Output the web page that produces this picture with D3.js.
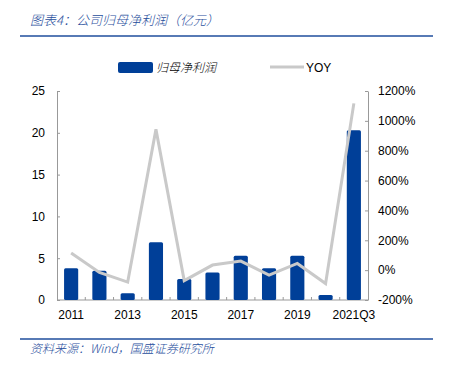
<!DOCTYPE html>
<html>
<head>
<meta charset="utf-8">
<script src="https://cdn.jsdelivr.net/npm/d3@7"></script>
<style>
  body { margin: 0; background: #fff; }
  svg text { font-family: "Liberation Sans", Arial, sans-serif; }
  .cn { font-family: "Noto Sans CJK SC", sans-serif; }
</style>
</head>
<body>
<svg id="chart" width="450" height="370"></svg>
<script>
// data
const years = ["2011", "2012", "2013", "2014", "2015", "2016", "2017", "2018", "2019", "2020", "2021Q3"];
const profit = [3.8, 3.5, 0.8, 6.9, 2.5, 3.3, 5.3, 3.8, 5.3, 0.6, 20.3];
const yoy = [115, -15, -80, 943, -70, 34, 61, -33, 45, -90, 1117];
const leftTicks = [0, 5, 10, 15, 20, 25];
const rightTicks = [-200, 0, 200, 400, 600, 800, 1000, 1200];
const shownYears = ["2011", "2013", "2015", "2017", "2019", "2021Q3"];

let svg = d3.select("#chart");
const blue = "#003f98";
const lineBlue = "#1f4e9c";

// title + rules
svg.append("text")
    .attr("class", "cn")
    .attr("x", 30).attr("y", 25)
    .attr("fill", lineBlue)
    .style("font-size", "13px")
    .style("font-weight", "300")
    .style("font-style", "italic")
    .text("图表4：公司归母净利润（亿元）");
svg.append("line").attr("x1", 20).attr("x2", 433).attr("y1", 36).attr("y2", 36)
    .attr("stroke", lineBlue).attr("stroke-width", 1.5);
svg.append("line").attr("x1", 20).attr("x2", 433).attr("y1", 339).attr("y2", 339)
    .attr("stroke", lineBlue).attr("stroke-width", 1.5);
svg.append("text")
    .attr("class", "cn")
    .attr("x", 30).attr("y", 353)
    .attr("fill", lineBlue)
    .style("font-size", "12px")
    .style("font-weight", "300")
    .style("font-style", "italic")
    .text("资料来源：Wind，国盛证券研究所");

// scales
let x = d3.scaleBand().domain(years).range([57, 368]).paddingInner(0.5).paddingOuter(0.25);
let y = d3.scaleLinear().domain([0, 25]).range([300, 91]);
let y2 = d3.scaleLinear().domain([-200, 1200]).range([300, 91]);

// axes
let gl = svg.append("g").attr("transform", "translate(57,0)")
    .call(d3.axisLeft(y).tickValues(leftTicks).tickSizeInner(-3).tickSizeOuter(0).tickPadding(12));
let gr = svg.append("g").attr("transform", "translate(368,0)")
    .call(d3.axisRight(y2).tickValues(rightTicks).tickSizeInner(-3).tickSizeOuter(0).tickPadding(10)
        .tickFormat(d => d + "%"));
let gb = svg.append("g").attr("transform", "translate(0,300)")
    .call(d3.axisBottom(x).tickValues(shownYears).tickSize(0).tickPadding(10));
// small ticks at band boundaries
svg.append("g").selectAll("line")
    .data(years.slice(1))
    .enter().append("line")
    .attr("x1", d => x(d) - x.step() * 0.25)
    .attr("x2", d => x(d) - x.step() * 0.25)
    .attr("y1", 300).attr("y2", 297)
    .attr("stroke", "#999");

[gl, gr, gb].forEach(g => {
    g.selectAll("path, line").attr("stroke", "#999");
    g.selectAll("text").style("font-size", "12px").attr("fill", "#000")
        .style("font-family", "'Liberation Sans', Arial, sans-serif");
});
gb.select(".domain").attr("d", "M57,0H368");

// bars
svg.selectAll("rect.bar")
    .data(profit)
    .enter().append("rect")
    .attr("class", "bar")
    .attr("x", (d, i) => x(years[i]))
    .attr("y", d => y(d))
    .attr("width", x.bandwidth())
    .attr("height", d => y(0) - y(d))
    .attr("rx", 1.5)
    .attr("fill", blue);

// yoy line
let line = d3.line()
    .x((d, i) => x(years[i]) + x.bandwidth() / 2)
    .y(d => y2(d));
svg.append("path")
    .datum(yoy)
    .attr("d", line)
    .attr("fill", "none")
    .attr("stroke", "#c9c9c9")
    .attr("stroke-width", 3);

// legend
svg.append("rect").attr("x", 118).attr("y", 62).attr("width", 35).attr("height", 11)
    .attr("rx", 2).attr("fill", blue);
svg.append("text").attr("class", "cn").attr("x", 156).attr("y", 72)
    .style("font-size", "12px").style("font-weight", "300").style("font-style", "italic").text("归母净利润");
svg.append("line").attr("x1", 270).attr("x2", 304).attr("y1", 67).attr("y2", 67)
    .attr("stroke", "#c9c9c9").attr("stroke-width", 3);
svg.append("text").attr("x", 306).attr("y", 72)
    .style("font-size", "12px").text("YOY");
</script>
</body>
</html>
